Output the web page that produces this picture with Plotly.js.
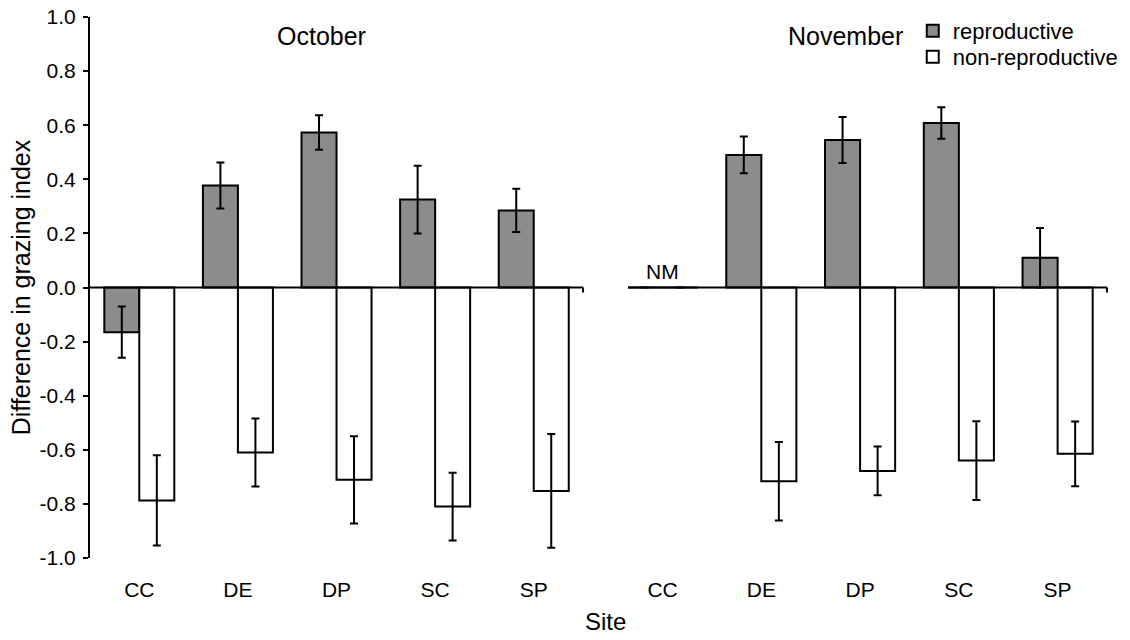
<!DOCTYPE html>
<html>
<head>
<meta charset="utf-8">
<script src="https://cdn.plot.ly/plotly-3.0.1.min.js"></script>
<style>html,body{margin:0;padding:0;background:#fff;}#chart{width:1130px;height:640px;}</style>
</head>
<body>
<div id="chart"></div>
<script>
// ---- data ----
var sites = ['CC', 'DE', 'DP', 'SC', 'SP'];
var octRep    = [-0.165, 0.377, 0.573, 0.325, 0.285];
var octRepErr = [0.095, 0.085, 0.064, 0.125, 0.080];
var octNon    = [-0.787, -0.610, -0.711, -0.810, -0.752];
var octNonErr = [0.167, 0.126, 0.161, 0.125, 0.210];
var novRep    = [0, 0.490, 0.545, 0.608, 0.110];
var novRepErr = [0, 0.068, 0.085, 0.058, 0.110];
var novNon    = [0, -0.716, -0.678, -0.640, -0.615];
var novNonErr = [0, 0.145, 0.090, 0.146, 0.120];
var yTickVals = [-1.0, -0.8, -0.6, -0.4, -0.2, 0.0, 0.2, 0.4, 0.6, 0.8, 1.0];
var yTickText = ['-1.0', '-0.8', '-0.6', '-0.4', '-0.2', '0.0', '0.2', '0.4', '0.6', '0.8', '1.0'];
var seriesNames = ['reproductive', 'non-reproductive'];
var panelTitles = ['October', 'November'];

var FONT = 'Liberation Sans, Arial, Helvetica, sans-serif';
var GREY = '#8c8c8c';

function barTrace(x, y, err, name, fill, xaxis, showleg, leg) {
  return {
    type: 'bar', x: x, y: y, name: name, xaxis: xaxis, yaxis: 'y',
    legendgroup: name, showlegend: showleg, legend: leg,
    marker: {color: fill, line: {color: '#000', width: 2}},
    error_y: {type: 'data', array: err, visible: true, color: '#000', thickness: 2, width: 4},
    hoverinfo: 'x+y'
  };
}

var data = [
  barTrace(sites, octRep, octRepErr, seriesNames[0], GREY, 'x', true, 'legend'),
  barTrace(sites, octNon, octNonErr, seriesNames[1], '#ffffff', 'x', true, 'legend2'),
  barTrace(sites, novRep, novRepErr, seriesNames[0], GREY, 'x2', false, 'legend'),
  barTrace(sites, novNon, novNonErr, seriesNames[1], '#ffffff', 'x2', false, 'legend2')
];

var xCommon = {
  type: 'category', showline: false, showgrid: false, zeroline: false,
  ticks: '', ticklabelstandoff: 17,
  tickfont: {family: FONT, size: 21, color: '#000'},
  anchor: 'y', fixedrange: true
};

var legendCommon = {
  xanchor: 'left', yanchor: 'top',
  font: {family: FONT, size: 22, color: '#000'},
  bgcolor: 'rgba(0,0,0,0)', borderwidth: 0
};

var layout = {
  width: 1130, height: 640,
  margin: {l: 90, r: 23, t: 17, b: 82, autoexpand: false},
  paper_bgcolor: '#fff', plot_bgcolor: 'rgba(0,0,0,0)',
  font: {family: FONT, color: '#000'},
  barmode: 'group', bargap: 0.29, bargroupgap: 0,
  showlegend: true,
  legend: Object.assign({}, legendCommon, {x: 0.809, y: 1.013}),
  legend2: Object.assign({}, legendCommon, {x: 0.809, y: 0.965}),
  xaxis: Object.assign({}, xCommon, {domain: [0, 0.4848], range: [-0.5, 4.5]}),
  xaxis2: Object.assign({}, xCommon, {domain: [0.529, 1], range: [-0.35, 4.5]}),
  yaxis: {
    range: [-1, 1], tickvals: yTickVals, ticktext: yTickText,
    showline: true, linecolor: '#000', linewidth: 2,
    ticks: 'outside', ticklen: 5, tickwidth: 2, tickcolor: '#000',
    ticklabelstandoff: 3,
    showgrid: false, zeroline: false, fixedrange: true,
    tickfont: {family: FONT, size: 21, color: '#000'},
    title: {text: 'Difference in grazing index', font: {family: FONT, size: 25, color: '#000'}, standoff: 2}
  },
  shapes: [
    {type: 'line', xref: 'x domain', yref: 'y', x0: 0, x1: 1, y0: 0, y1: 0, line: {color: '#000', width: 2}},
    {type: 'line', xref: 'x2 domain', yref: 'y', x0: 0, x1: 1, y0: 0, y1: 0, line: {color: '#000', width: 2}},
    {type: 'line', xref: 'x domain', yref: 'y', x0: 1, x1: 1, ysizemode: 'pixel', yanchor: 0, y0: 0, y1: -5, line: {color: '#000', width: 2}},
    {type: 'line', xref: 'x2 domain', yref: 'y', x0: 1, x1: 1, ysizemode: 'pixel', yanchor: 0, y0: 0, y1: -5, line: {color: '#000', width: 2}}
  ],
  annotations: [
    {text: panelTitles[0], xref: 'paper', yref: 'paper', x: 0.228, y: 0.965, xanchor: 'center', yanchor: 'middle', showarrow: false, font: {family: FONT, size: 25, color: '#000'}},
    {text: panelTitles[1], xref: 'paper', yref: 'paper', x: 0.743, y: 0.965, xanchor: 'center', yanchor: 'middle', showarrow: false, font: {family: FONT, size: 25, color: '#000'}},
    {text: 'NM', xref: 'x2', yref: 'y', x: sites[0], y: 0, xanchor: 'center', yanchor: 'bottom', yshift: 3, showarrow: false, font: {family: FONT, size: 21, color: '#000'}},
    {text: 'Site', xref: 'paper', yref: 'paper', x: 0.507, y: -0.118, xanchor: 'center', yanchor: 'middle', showarrow: false, font: {family: FONT, size: 24, color: '#000'}}
  ]
};

Plotly.newPlot('chart', data, layout, {displayModeBar: false, staticPlot: true});
</script>
</body>
</html>
